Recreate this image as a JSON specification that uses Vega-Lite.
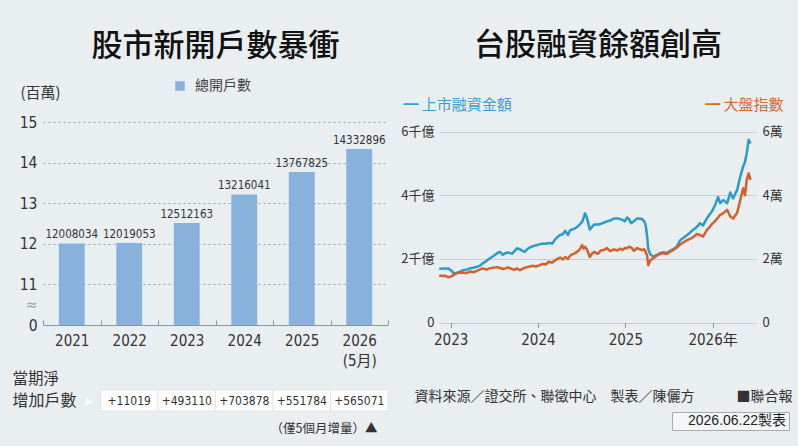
{
  "$schema": "https://vega.github.io/schema/vega-lite/v6.json",
  "autosize": {"type": "none"},
  "padding": {"left": 43, "top": 122, "right": 755, "bottom": 324},
  "background": "#e9eef1",
  "config": {"view": {"stroke": null}},
  "columns": 2,
  "spacing": {"row": 65, "column": 51},
  "bounds": "flush",
  "align": "each",
  "datasets": {
    "bars": [
      {"year": "2021", "n": 12008034},
      {"year": "2022", "n": 12019053},
      {"year": "2023", "n": 12512163},
      {"year": "2024", "n": 13216041},
      {"year": "2025", "n": 13767825},
      {"year": "2026", "n": 14332896}
    ],
    "table": [
      {"year": "2022", "r": "增加戶數", "inc": 11019},
      {"year": "2023", "r": "增加戶數", "inc": 493110},
      {"year": "2024", "r": "增加戶數", "inc": 703878},
      {"year": "2025", "r": "增加戶數", "inc": 551784},
      {"year": "2026", "r": "增加戶數", "inc": 565071}
    ],
    "lines": [
      {"d": "2022-11-14", "m": 1680, "idx": 14800},
      {"d": "2022-11-28", "m": 1700, "idx": 14600},
      {"d": "2022-12-08", "m": 1690, "idx": 14700},
      {"d": "2022-12-22", "m": 1700, "idx": 14200},
      {"d": "2023-01-04", "m": 1630, "idx": 14500},
      {"d": "2023-01-14", "m": 1540, "idx": 15000},
      {"d": "2023-01-31", "m": 1570, "idx": 15600},
      {"d": "2023-02-21", "m": 1640, "idx": 15700},
      {"d": "2023-03-08", "m": 1660, "idx": 15500},
      {"d": "2023-03-22", "m": 1700, "idx": 16000},
      {"d": "2023-04-06", "m": 1720, "idx": 15800},
      {"d": "2023-04-20", "m": 1750, "idx": 16200},
      {"d": "2023-05-02", "m": 1780, "idx": 16600},
      {"d": "2023-05-15", "m": 1860, "idx": 17000},
      {"d": "2023-05-30", "m": 1930, "idx": 16600},
      {"d": "2023-06-13", "m": 2010, "idx": 17000},
      {"d": "2023-06-27", "m": 2080, "idx": 17200},
      {"d": "2023-07-13", "m": 2170, "idx": 17400},
      {"d": "2023-07-25", "m": 2220, "idx": 17200},
      {"d": "2023-08-07", "m": 2130, "idx": 16800},
      {"d": "2023-08-18", "m": 2180, "idx": 17000},
      {"d": "2023-08-28", "m": 2200, "idx": 17300},
      {"d": "2023-09-14", "m": 2160, "idx": 16800},
      {"d": "2023-09-26", "m": 2250, "idx": 16600},
      {"d": "2023-10-05", "m": 2330, "idx": 17000},
      {"d": "2023-10-18", "m": 2300, "idx": 16400},
      {"d": "2023-10-26", "m": 2260, "idx": 16800},
      {"d": "2023-11-07", "m": 2220, "idx": 17200},
      {"d": "2023-11-17", "m": 2300, "idx": 17400},
      {"d": "2023-11-28", "m": 2360, "idx": 17600},
      {"d": "2023-12-12", "m": 2400, "idx": 17800},
      {"d": "2023-12-23", "m": 2420, "idx": 17600},
      {"d": "2024-01-08", "m": 2460, "idx": 18000},
      {"d": "2024-01-22", "m": 2480, "idx": 18400},
      {"d": "2024-02-02", "m": 2470, "idx": 18200},
      {"d": "2024-02-15", "m": 2500, "idx": 19100},
      {"d": "2024-03-01", "m": 2480, "idx": 18800},
      {"d": "2024-03-12", "m": 2600, "idx": 19500},
      {"d": "2024-03-22", "m": 2680, "idx": 20000},
      {"d": "2024-04-03", "m": 2750, "idx": 20400},
      {"d": "2024-04-15", "m": 2780, "idx": 19800},
      {"d": "2024-04-24", "m": 2880, "idx": 20600},
      {"d": "2024-05-06", "m": 2750, "idx": 20000},
      {"d": "2024-05-15", "m": 2900, "idx": 21000},
      {"d": "2024-05-23", "m": 2920, "idx": 21400},
      {"d": "2024-06-05", "m": 2960, "idx": 21800},
      {"d": "2024-06-13", "m": 3000, "idx": 22200},
      {"d": "2024-06-24", "m": 3080, "idx": 23000},
      {"d": "2024-07-04", "m": 3160, "idx": 24300},
      {"d": "2024-07-11", "m": 3300, "idx": 23200},
      {"d": "2024-07-16", "m": 3430, "idx": 23800},
      {"d": "2024-07-24", "m": 3300, "idx": 23000},
      {"d": "2024-08-05", "m": 2920, "idx": 20600},
      {"d": "2024-08-14", "m": 3000, "idx": 21600},
      {"d": "2024-08-23", "m": 3080, "idx": 22200},
      {"d": "2024-09-09", "m": 3080, "idx": 21600},
      {"d": "2024-09-20", "m": 3100, "idx": 22600},
      {"d": "2024-10-04", "m": 3140, "idx": 22800},
      {"d": "2024-10-16", "m": 3180, "idx": 23400},
      {"d": "2024-10-29", "m": 3200, "idx": 22400},
      {"d": "2024-11-15", "m": 3270, "idx": 23000},
      {"d": "2024-11-28", "m": 3270, "idx": 22600},
      {"d": "2024-12-10", "m": 3250, "idx": 23200},
      {"d": "2024-12-20", "m": 3220, "idx": 22800},
      {"d": "2024-12-30", "m": 3180, "idx": 23400},
      {"d": "2025-01-08", "m": 3300, "idx": 23300},
      {"d": "2025-01-16", "m": 3250, "idx": 23800},
      {"d": "2025-01-25", "m": 3120, "idx": 23600},
      {"d": "2025-02-06", "m": 3180, "idx": 22500},
      {"d": "2025-02-19", "m": 3270, "idx": 23400},
      {"d": "2025-03-03", "m": 3260, "idx": 23000},
      {"d": "2025-03-12", "m": 3250, "idx": 22800},
      {"d": "2025-03-21", "m": 3180, "idx": 23000},
      {"d": "2025-03-27", "m": 3050, "idx": 22200},
      {"d": "2025-04-02", "m": 2720, "idx": 21000},
      {"d": "2025-04-07", "m": 2300, "idx": 18000},
      {"d": "2025-04-15", "m": 2150, "idx": 19500},
      {"d": "2025-04-28", "m": 2060, "idx": 20200},
      {"d": "2025-05-12", "m": 2120, "idx": 21000},
      {"d": "2025-05-26", "m": 2180, "idx": 21500},
      {"d": "2025-06-09", "m": 2210, "idx": 21800},
      {"d": "2025-06-23", "m": 2180, "idx": 21500},
      {"d": "2025-07-07", "m": 2250, "idx": 22200},
      {"d": "2025-07-21", "m": 2310, "idx": 22800},
      {"d": "2025-08-04", "m": 2380, "idx": 23500},
      {"d": "2025-08-18", "m": 2580, "idx": 24500},
      {"d": "2025-09-01", "m": 2660, "idx": 25200},
      {"d": "2025-09-15", "m": 2740, "idx": 25800},
      {"d": "2025-09-28", "m": 2820, "idx": 26300},
      {"d": "2025-10-13", "m": 2920, "idx": 26800},
      {"d": "2025-10-27", "m": 3000, "idx": 27800},
      {"d": "2025-11-09", "m": 3120, "idx": 27500},
      {"d": "2025-11-22", "m": 3050, "idx": 27000},
      {"d": "2025-12-08", "m": 3270, "idx": 29000},
      {"d": "2025-12-20", "m": 3400, "idx": 30000},
      {"d": "2025-12-30", "m": 3500, "idx": 31000},
      {"d": "2026-01-11", "m": 3680, "idx": 31800},
      {"d": "2026-01-24", "m": 3940, "idx": 33000},
      {"d": "2026-02-02", "m": 3750, "idx": 33800},
      {"d": "2026-02-14", "m": 3850, "idx": 34300},
      {"d": "2026-03-03", "m": 3750, "idx": 35400},
      {"d": "2026-03-16", "m": 4080, "idx": 33300},
      {"d": "2026-03-28", "m": 3900, "idx": 32700},
      {"d": "2026-04-14", "m": 4170, "idx": 34500},
      {"d": "2026-04-27", "m": 4590, "idx": 38500},
      {"d": "2026-05-09", "m": 4900, "idx": 42200},
      {"d": "2026-05-17", "m": 5050, "idx": 40000},
      {"d": "2026-05-24", "m": 5320, "idx": 44800},
      {"d": "2026-06-01", "m": 5740, "idx": 46900},
      {"d": "2026-06-09", "m": 5630, "idx": 44800}
    ]
  },
  "concat": [
    {
      "width": 345,
      "height": 203,
      "title": {"text": "股市新開戶數暴衝", "font": "'Noto Sans CJK TC', sans-serif", "fontSize": 31, "fontWeight": 500, "color": "#111111", "anchor": "middle", "baseline": "bottom", "offset": -9},
      "data": {"name": "bars"},
      "encoding": {
        "x": {
          "field": "year", "type": "nominal",
          "scale": {"paddingInner": 0, "paddingOuter": 0},
          "axis": {
            "title": null, "labelAngle": 0,
            "labelFont": "'DejaVu Sans Condensed', 'Noto Sans CJK TC', sans-serif",
            "labelFontSize": 15, "labelColor": "#333333", "labelBaseline": "top", "labelLineHeight": 20,
            "labelExpr": "datum.label == '2026' ? ['2026', '(5月)'] : datum.label",
            "labelPadding": 13, "tickBand": "extent", "tickSize": -5, "tickColor": "#8f979d", "domainColor": "#8f979d"
          }
        }
      },
      "layer": [
        {
          "mark": {"type": "bar", "width": {"band": 0.45}},
          "encoding": {
            "y": {
              "field": "n", "type": "quantitative",
              "scale": {"domain": [10000000, 15000000], "nice": false, "zero": false},
              "axis": {
                "title": "(百萬)", "titleAngle": 0, "titleAlign": "left", "titleBaseline": "middle",
                "titleX": -23, "titleY": -30, "titleFont": "'Noto Sans CJK TC', sans-serif", "titleFontSize": 15,
                "titleFontWeight": "normal", "titleColor": "#333333",
                "values": [10000000, 10500000, 11000000, 12000000, 13000000, 14000000, 15000000],
                "tickCount": 20,
                "labelExpr": "datum.value == 10000000 ? '0' : datum.value == 10500000 ? '≈' : format(datum.value / 1000000, 'd')",
                "labelFont": "'DejaVu Sans Condensed', sans-serif", "labelFontSize": 15.5,
                "labelColor": {"condition": {"test": "datum.value == 10500000", "value": "#9aa3aa"}, "value": "#333333"},
                "labelPadding": 6, "labelOverlap": false, "domain": false, "ticks": false,
                "grid": true, "gridDash": [2, 3], "gridColor": "#9aa4ab",
                "gridOpacity": {"condition": {"test": "datum.value <= 10500000", "value": 0}, "value": 1}
              }
            },
            "y2": {"datum": 10000000},
            "color": {
              "datum": "總開戶數",
              "scale": {"range": ["#88b2dc"]},
              "legend": {
                "title": null, "orient": "none", "legendX": 130, "legendY": -43,
                "symbolType": "square", "symbolSize": 90, "labelFont": "'Noto Sans CJK TC', sans-serif",
                "labelFontSize": 14, "labelColor": "#444444", "labelOffset": 8, "padding": 0
              }
            }
          }
        },
        {
          "mark": {"type": "text", "baseline": "bottom", "dy": -3, "font": "'DejaVu Sans Condensed', sans-serif", "fontSize": 11.5, "color": "#333333"},
          "encoding": {
            "y": {"field": "n", "type": "quantitative"},
            "text": {"field": "n", "type": "quantitative", "format": "d"}
          }
        }
      ]
    },
    {
      "width": 318,
      "height": 200.5,
      "title": {"text": "台股融資餘額創高", "font": "'Noto Sans CJK TC', sans-serif", "fontSize": 31, "fontWeight": 500, "color": "#111111", "anchor": "middle", "baseline": "bottom", "offset": 4},
      "data": {"name": "lines"},
      "encoding": {
        "x": {
          "field": "d", "type": "temporal",
          "scale": {"domain": [{"year": 2022, "month": 11, "date": 13}, {"year": 2026, "month": 7, "date": 6}]},
          "axis": {
            "values": [{"year": 2023, "month": 1, "date": 1}, {"year": 2024, "month": 1, "date": 1}, {"year": 2025, "month": 1, "date": 1}, {"year": 2026, "month": 1, "date": 1}],
            "labelExpr": "timeFormat(datum.value, '%Y') + (year(datum.value) == 2026 ? '年' : '')",
            "labelFont": "'DejaVu Sans Condensed', 'Noto Sans CJK TC', sans-serif",
            "labelFontSize": 15, "labelColor": "#333333", "labelPadding": 5, "labelFlush": false,
            "grid": false, "domain": false, "ticks": true, "tickSize": 5, "tickColor": "#8f979d",
            "title": "資料來源／證交所、聯徵中心　製表／陳儷方　　　■聯合報",
            "titleX": -25, "titleY": 74, "titleAlign": "left", "titleBaseline": "middle",
            "titleFont": "'Noto Sans CJK TC', sans-serif", "titleFontSize": 14, "titleFontWeight": "normal", "titleColor": "#333333"
          }
        }
      },
      "layer": [
        {
          "mark": {"type": "line", "color": "#2b9bc8", "strokeWidth": 2.5, "strokeJoin": "round"},
          "encoding": {
            "y": {
              "field": "m", "type": "quantitative",
              "scale": {"domain": [0, 6300], "nice": false},
              "axis": {
                "values": [0, 2000, 4000, 6000],
                "labelExpr": "datum.value == 0 ? '0' : (datum.value / 1000) + '千億'",
                "labelFont": "'Noto Sans CJK TC', sans-serif", "labelFontSize": 13, "labelColor": "#333333",
                "labelPadding": 5, "domain": false, "ticks": false,
                "grid": true, "gridColor": "#c6cdd2", "gridWidth": 1,
                "title": "━ 上市融資金額", "titleColor": "#35a3cf", "titleAngle": 0, "titleAlign": "left",
                "titleBaseline": "middle", "titleX": -36, "titleY": -18,
                "titleFont": "'Noto Sans CJK TC', sans-serif", "titleFontSize": 15, "titleFontWeight": "normal"
              }
            },
            "strokeDash": {
              "datum": "2026.06.22製表",
              "scale": {"range": [[1, 0]]},
              "legend": {
                "title": null, "orient": "none", "legendX": 629, "legendY": 290,
                "symbolOpacity": 0, "symbolSize": 0, "symbolStrokeWidth": 0, "labelOffset": 0,
                "labelFont": "'Liberation Sans', 'Noto Sans CJK TC', sans-serif", "labelFontSize": 14, "labelColor": "#222222",
                "fillColor": "#f4f6f8", "strokeColor": "#a6acb0", "padding": 2
              }
            }
          }
        },
        {
          "mark": {"type": "line", "color": "#d4612b", "strokeWidth": 2.5, "strokeJoin": "round"},
          "encoding": {
            "y": {
              "field": "idx", "type": "quantitative",
              "scale": {"domain": [0, 63000], "nice": false},
              "axis": {
                "orient": "right",
                "values": [0, 20000, 40000, 60000],
                "labelExpr": "datum.value == 0 ? '0' : (datum.value / 10000) + '萬'",
                "labelFont": "'Noto Sans CJK TC', sans-serif", "labelFontSize": 13, "labelColor": "#333333",
                "labelPadding": 5, "domain": false, "ticks": false, "grid": false,
                "title": "━ 大盤指數", "titleColor": "#d9692f", "titleAngle": 0, "titleAlign": "right",
                "titleBaseline": "middle", "titleX": 26, "titleY": -18,
                "titleFont": "'Noto Sans CJK TC', sans-serif", "titleFontSize": 15, "titleFontWeight": "normal"
              }
            }
          }
        }
      ],
      "resolve": {"scale": {"y": "independent"}, "axis": {"y": "independent"}}
    },
    {
      "width": 345,
      "height": 21,
      "data": {"name": "table"},
      "encoding": {
        "x": {
          "field": "year", "type": "nominal",
          "scale": {"domain": ["2021", "2022", "2023", "2024", "2025", "2026"], "paddingInner": 0, "paddingOuter": 0},
          "axis": {
            "labels": false, "ticks": false, "domain": false,
            "title": "（僅5個月增量）▲", "titleX": 334, "titleY": 17, "titleAlign": "right", "titleBaseline": "middle",
            "titleFont": "'Noto Sans CJK TC', sans-serif", "titleFontSize": 12.5, "titleFontWeight": "normal", "titleColor": "#333333"
          }
        },
        "y": {
          "field": "r", "type": "nominal",
          "scale": {"paddingInner": 0, "paddingOuter": 0},
          "axis": {
            "title": "當期淨", "titleAngle": 0, "titleAlign": "left", "titleBaseline": "middle",
            "titleX": -31, "titleY": -12, "titleFont": "'Noto Sans CJK TC', sans-serif", "titleFontSize": 15.5,
            "titleFontWeight": "normal", "titleColor": "#333333",
            "labelAlign": "left", "labelPadding": 31, "labelFont": "'Noto Sans CJK TC', sans-serif",
            "labelFontSize": 16, "labelColor": "#333333", "domain": false, "ticks": false
          }
        }
      },
      "layer": [
        {"mark": {"type": "bar", "fill": "#ffffff", "stroke": "#e2e6e9", "strokeWidth": 1}},
        {
          "mark": {"type": "text", "font": "'DejaVu Sans Condensed', sans-serif", "fontSize": 12, "color": "#333333"},
          "encoding": {"text": {"field": "inc", "type": "quantitative", "format": "+d"}}
        },
        {
          "data": {"values": [{"year": "2021", "r": "增加戶數", "t": "▶"}]},
          "mark": {"type": "text", "color": "#f7f9fa", "fontSize": 12},
          "encoding": {
            "x": {"field": "year", "type": "nominal", "bandPosition": 0.8},
            "text": {"field": "t", "type": "nominal"}
          }
        }
      ]
    }
  ]
}
